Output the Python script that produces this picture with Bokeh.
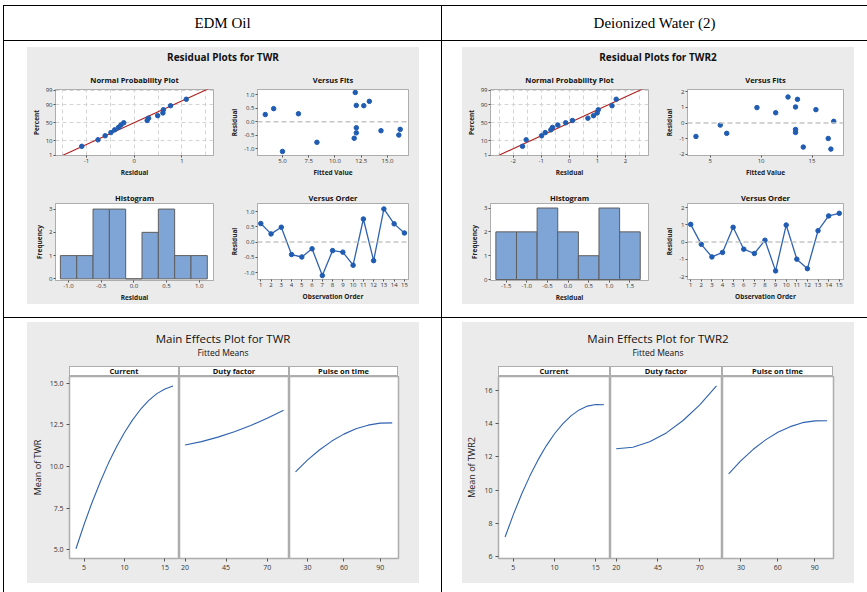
from statistics import NormalDist, mean, stdev

import numpy as np
from bokeh.plotting import figure
from bokeh.models import (Column, Row, Div, Spacer, Range1d, FixedTicker,
                          NumeralTickFormatter, Span)
from bokeh.embed import file_html
from bokeh.resources import INLINE

# ---------------- data ----------------
obs_order = list(range(1, 16))

# EDM oil, response TWR
resid_twr = [0.61, 0.27, 0.49, -0.41, -0.49, -0.22, -1.10, -0.28,
             -0.33, -0.76, 0.76, -0.61, 1.09, 0.60, 0.30]
fits_twr = [12.03, 3.36, 4.16, 12.03, 16.08, 12.03, 5.00, 16.21,
            14.38, 8.28, 13.27, 11.83, 11.93, 12.74, 6.52]
hist_centers_twr = [-1.0, -0.75, -0.5, -0.25, 0.0, 0.25, 0.5, 0.75, 1.0]
hist_width_twr = 0.25

# Deionized water, response TWR2
resid_twr2 = [1.03, -0.13, -0.86, -0.60, 0.86, -0.41, -0.66, 0.11,
              -1.67, 0.99, -0.99, -1.54, 0.66, 1.52, 1.67]
fits_twr2 = [13.38, 5.99, 3.60, 13.38, 15.38, 13.38, 6.62, 17.13,
             16.85, 9.59, 16.59, 14.14, 11.43, 13.57, 12.64]
hist_centers_twr2 = [-1.5, -1.0, -0.5, 0.0, 0.5, 1.0, 1.5]
hist_width_twr2 = 0.5

# probability-plot percent ticks
pct_ticks = [1, 10, 50, 90, 99]

# main effects (fitted means)
factor_names = ["Current", "Duty factor", "Pulse on time"]
current_levels = [4, 5, 6, 7, 8, 9, 10, 11, 12, 13, 14, 15, 16]
duty_levels = [20, 30, 40, 50, 60, 70, 80]
pulse_levels = [20, 30, 40, 50, 60, 70, 80, 90, 100]

twr_current = [5.05, 6.51, 7.85, 9.07, 10.19, 11.17, 12.05, 12.81, 13.45,
               13.98, 14.39, 14.67, 14.85]
twr_duty = [11.29, 11.50, 11.77, 12.09, 12.47, 12.90, 13.39]
twr_pulse = [9.68, 10.40, 11.01, 11.53, 11.95, 12.27, 12.49, 12.61, 12.63]

twr2_current = [7.16, 8.51, 9.74, 10.84, 11.82, 12.67, 13.40, 14.00, 14.48,
                14.84, 15.07, 15.17, 15.15]
twr2_duty = [12.49, 12.58, 12.92, 13.45, 14.20, 15.15, 16.30]
twr2_pulse = [10.98, 11.78, 12.46, 13.03, 13.49, 13.83, 14.07, 14.18, 14.19]

# ---------------- style ----------------
FONT = "Open Sans"
SERIF = "Liberation Serif"
PANEL_BG = "#ebebeb"
FRAME_C = "#adadad"
BLUE = "#1f5cb2"
LINE_BLUE = "#2f62b0"
RED = "#b0201e"
BAR_FILL = "#7fa5d6"
BAR_LINE = "#5e5e5e"
REF_C = "#c6c6c6"


def small_fig(width, height, xr, yr, borders, title, standoff):
    l, r, t, b = borders
    p = figure(width=width, height=height,
               x_range=Range1d(*xr), y_range=Range1d(*yr),
               toolbar_location=None, output_backend="svg",
               min_border_left=l, min_border_right=r,
               min_border_top=t, min_border_bottom=b)
    p.title.text = title
    p.title.align = "center"
    p.title.text_font = FONT
    p.title.text_font_size = "7.5px"
    p.title.text_font_style = "bold"
    p.title.text_color = "#111111"
    p.title.standoff = standoff
    p.background_fill_color = "white"
    p.border_fill_color = PANEL_BG
    p.outline_line_color = FRAME_C
    p.grid.visible = False
    ax = p.axis
    ax.axis_line_color = FRAME_C
    ax.major_tick_line_color = "#555555"
    ax.major_tick_out = 2
    ax.major_tick_in = 0
    ax.minor_tick_line_color = None
    ax.major_label_text_font = FONT
    ax.major_label_text_font_size = "6px"
    ax.major_label_text_color = "#333333"
    ax.major_label_standoff = 1
    ax.axis_label_text_font = FONT
    ax.axis_label_text_font_size = "6.5px"
    ax.axis_label_text_font_style = "bold"
    ax.axis_label_text_color = "#222222"
    ax.axis_label_standoff = 2
    return p


def npp_fig(resid, xr, xticks, xgrid, borders):
    nd = NormalDist()
    n = len(resid)
    srt = sorted(resid)
    z = [nd.inv_cdf((i + 0.7) / (n + 0.4)) for i in range(n)]
    mu, sd = mean(resid), stdev(resid)
    zl = [-3.5, 3.5]
    xl = [mu + sd * v for v in zl]
    p = small_fig(200, 112, xr, (-2.35, 2.39), borders,
                  "Normal Probability Plot", 10)
    zt = [nd.inv_cdf(v / 100) for v in pct_ticks]
    p.yaxis.ticker = FixedTicker(ticks=zt)
    p.yaxis.major_label_overrides = {t: str(v) for t, v in zip(zt, pct_ticks)}
    p.xaxis.ticker = FixedTicker(ticks=xticks)
    p.xaxis.formatter = NumeralTickFormatter(format="0")
    p.xgrid.visible = True
    p.ygrid.visible = True
    p.xgrid.ticker = FixedTicker(ticks=xgrid)
    p.ygrid.ticker = FixedTicker(ticks=zt)
    p.grid.grid_line_color = "#d4d4d4"
    p.grid.grid_line_dash = "4 3"
    p.grid.grid_line_width = 1
    p.line(xl, zl, line_color=RED, line_width=1.1)
    p.scatter(srt, z, size=4.5, fill_color=BLUE, line_color=BLUE)
    p.xaxis.axis_label = "Residual"
    p.yaxis.axis_label = "Percent"
    return p


def fits_fig(resid, fits, xr, yr, xticks, xfmt, yticks, yfmt, borders):
    p = small_fig(192, 112, xr, yr, borders, "Versus Fits", 10)
    p.xaxis.ticker = FixedTicker(ticks=xticks)
    p.xaxis.formatter = NumeralTickFormatter(format=xfmt)
    p.yaxis.ticker = FixedTicker(ticks=yticks)
    p.yaxis.formatter = NumeralTickFormatter(format=yfmt)
    p.add_layout(Span(location=0, dimension="width", line_color=REF_C,
                      line_dash="5 3", line_width=1.5))
    p.scatter(fits, resid, size=4.5, fill_color=BLUE, line_color=BLUE)
    p.xaxis.axis_label = "Fitted Value"
    p.yaxis.axis_label = "Residual"
    return p


def hist_fig(resid, centers, width, xr, yr, xfmt, borders):
    edges = [c - width / 2 for c in centers] + [centers[-1] + width / 2]
    counts, _ = np.histogram(resid, bins=edges)
    p = small_fig(200, 125, xr, yr, borders, "Histogram", 1)
    p.quad(left=edges[:-1], right=edges[1:], bottom=0, top=counts,
           fill_color=BAR_FILL, line_color=BAR_LINE, line_width=1)
    p.xaxis.ticker = FixedTicker(ticks=centers if len(centers) < 8 else centers[::2])
    p.xaxis.formatter = NumeralTickFormatter(format=xfmt)
    p.yaxis.ticker = FixedTicker(ticks=[0, 1, 2, 3])
    p.xaxis.axis_label = "Residual"
    p.yaxis.axis_label = "Frequency"
    return p


def order_fig(resid, xr, yr, yticks, yfmt, borders):
    p = small_fig(192, 125, xr, yr, borders, "Versus Order", 1)
    p.xaxis.ticker = FixedTicker(ticks=obs_order)
    p.yaxis.ticker = FixedTicker(ticks=yticks)
    p.yaxis.formatter = NumeralTickFormatter(format=yfmt)
    p.add_layout(Span(location=0, dimension="width", line_color=REF_C,
                      line_dash="5 3", line_width=1.5))
    p.line(obs_order, resid, line_color=LINE_BLUE, line_width=1.3)
    p.scatter(obs_order, resid, size=4.5, fill_color=BLUE, line_color=BLUE)
    p.xaxis.axis_label = "Observation Order"
    p.yaxis.axis_label = "Residual"
    return p


def panel_title(text):
    return Div(text=text, width=392, height=20, margin=0,
               styles={"font-family": FONT, "font-weight": "bold",
                       "font-size": "10px", "color": "#111111",
                       "text-align": "center", "line-height": "20px"})


def residual_panel(title, npp, fits, hist, order):
    grid = Row(children=[Column(children=[npp, hist], spacing=0),
                         Column(children=[fits, order], spacing=0)],
               spacing=0)
    return Column(children=[panel_title(title), grid], width=392, height=257,
                  spacing=0, styles={"background-color": PANEL_BG})


def effects_panel(title, ylabel, yr, yticks, yfmt, left, widths, curves):
    head = Div(
        text=('<div style="height:9px"></div>'
              f'<div style="font-size:11.5px;line-height:16px">{title}</div>'
              '<div style="font-size:8.5px;line-height:12px">Fitted Means</div>'),
        width=392, height=44, margin=0,
        styles={"font-family": FONT, "color": "#111111",
                "text-align": "center"})
    strip_style = {"font-family": FONT, "font-weight": "bold",
                   "font-size": "7.5px", "color": "#111111",
                   "text-align": "center", "line-height": "9px",
                   "background-color": "white",
                   "border": f"1px solid {FRAME_C}",
                   "box-sizing": "border-box"}
    strips = Row(children=[Spacer(width=left, height=10)] +
                 [Div(text=n, width=w, height=10, margin=0, styles=strip_style)
                  for n, w in zip(factor_names, widths)], spacing=0)
    y_range = Range1d(*yr)
    xinfo = [((3.2, 16.8), [5, 10, 15]),
             ((16.6, 83.6), [20, 45, 70]),
             ((15.0, 105.2), [30, 60, 90])]
    figs = []
    for i, ((xs, ys), w, (xr, xt)) in enumerate(zip(curves, widths, xinfo)):
        bl = left if i == 0 else 0
        br = 21 if i == 2 else 0
        p = figure(width=w + bl + br, height=207,
                   x_range=Range1d(*xr), y_range=y_range,
                   toolbar_location=None, output_backend="svg", title=None,
                   y_axis_location="left" if i == 0 else None,
                   min_border_left=bl, min_border_right=br,
                   min_border_top=0, min_border_bottom=25)
        p.background_fill_color = "white"
        p.border_fill_color = PANEL_BG
        p.outline_line_color = FRAME_C
        p.outline_line_width = 1.5
        p.grid.visible = False
        ax = p.axis
        ax.axis_line_color = None
        ax.major_tick_line_color = "#555555"
        ax.major_tick_out = 3
        ax.major_tick_in = 0
        ax.minor_tick_line_color = None
        ax.major_label_text_font = FONT
        ax.major_label_text_font_size = "7px"
        ax.major_label_text_color = "#333333"
        ax.major_label_standoff = 3
        p.xaxis.ticker = FixedTicker(ticks=xt)
        if i == 0:
            p.yaxis.ticker = FixedTicker(ticks=yticks)
            p.yaxis.formatter = NumeralTickFormatter(format=yfmt)
            p.yaxis.axis_label = ylabel
            p.yaxis.axis_label_text_font = FONT
            p.yaxis.axis_label_text_font_size = "9px"
            p.yaxis.axis_label_text_font_style = "normal"
            p.yaxis.axis_label_text_color = "#222222"
            p.yaxis.axis_label_standoff = 3
        p.line(xs, ys, line_color=LINE_BLUE, line_width=1.1)
        figs.append(p)
    return Column(children=[head, strips, Row(children=figs, spacing=0)],
                  width=392, height=261, spacing=0,
                  styles={"background-color": PANEL_BG})


# ---------------- residual panels ----------------
res_left = residual_panel(
    "Residual Plots for TWR",
    npp_fig(resid_twr, (-1.65, 1.66), [-1, 0, 1],
            [-1.5, -1, -0.5, 0, 0.5, 1, 1.5], (28, 14, 20, 20)),
    fits_fig(resid_twr, fits_twr, (2.62, 17.0), (-1.25, 1.20),
             [5, 7.5, 10, 12.5, 15], "0.0", [-1, -0.5, 0, 0.5, 1], "0.0",
             (26, 11, 20, 20)),
    hist_fig(resid_twr, hist_centers_twr, hist_width_twr, (-1.20, 1.22),
             (-0.07, 3.24), "0.0", (27, 14, 24, 23)),
    order_fig(resid_twr, (0.68, 15.4), (-1.23, 1.27),
              [-1, -0.5, 0, 0.5, 1], "0.0", (26, 10, 24, 25)))

res_right = residual_panel(
    "Residual Plots for TWR2",
    npp_fig(resid_twr2, (-2.81, 2.82), [-2, -1, 0, 1, 2],
            [-2.5, -2, -1.5, -1, -0.5, 0, 0.5, 1, 1.5, 2, 2.5],
            (28, 14, 20, 20)),
    fits_fig(resid_twr2, fits_twr2, (2.77, 18.09), (-2.08, 2.15),
             [5, 10, 15], "0", [-2, -1, 0, 1, 2], "0", (21, 11, 20, 20)),
    hist_fig(resid_twr2, hist_centers_twr2, hist_width_twr2, (-1.88, 1.95),
             (-0.04, 3.19), "0.0", (28, 14, 24, 23)),
    order_fig(resid_twr2, (0.7, 15.4), (-2.17, 2.24),
              [-2, -1, 0, 1, 2], "0", (21, 11, 24, 25)))

# ---------------- main effects panels ----------------
eff_left = effects_panel(
    "Main Effects Plot for TWR", "Mean of TWR", (4.46, 15.42),
    [5, 7.5, 10, 12.5, 15], "0.0", 42, [110, 110, 109],
    [(current_levels, twr_current), (duty_levels, twr_duty),
     (pulse_levels, twr_pulse)])

eff_right = effects_panel(
    "Main Effects Plot for TWR2", "Mean of TWR2", (5.86, 16.86),
    [6, 8, 10, 12, 14, 16], "0", 36, [112, 112, 111],
    [(current_levels, twr2_current), (duty_levels, twr2_duty),
     (pulse_levels, twr2_pulse)])


# ---------------- table frame ----------------
def header_cell(text, width):
    return Div(text=text, width=width, height=34, margin=0,
               styles={"background-color": "white", "font-family": SERIF,
                       "font-size": "15px", "color": "#000000",
                       "text-align": "center", "line-height": "34px"})


def cell(content, width, height, top, left):
    inner = Row(children=[Spacer(width=left, height=10), content], spacing=0)
    return Column(children=[Spacer(width=width, height=top), inner],
                  width=width, height=height, spacing=0,
                  styles={"background-color": "white"})


def hline(h):
    return Spacer(width=864, height=h)


def vline(h):
    return Spacer(width=1, height=h)


header = Row(children=[vline(34), header_cell("EDM Oil", 437), vline(34),
                       header_cell("Deionized Water (2)", 425)], spacing=0)
row1 = Row(children=[vline(276), cell(res_left, 437, 276, 6, 23), vline(276),
                     cell(res_right, 425, 276, 6, 20)], spacing=0)
row2 = Row(children=[vline(274), cell(eff_left, 437, 274, 4, 23), vline(274),
                     cell(eff_right, 425, 274, 4, 20)], spacing=0)

table = Column(children=[hline(1), header, hline(1), row1, hline(1), row2],
               width=864, height=587, spacing=0,
               styles={"background-color": "black"})

page = Column(children=[Spacer(width=867, height=5),
                        Row(children=[Spacer(width=3, height=10), table],
                            spacing=0)],
              width=867, height=592, spacing=0,
              styles={"background-color": "white"})

open("out.html", "w").write(file_html(page, INLINE))
